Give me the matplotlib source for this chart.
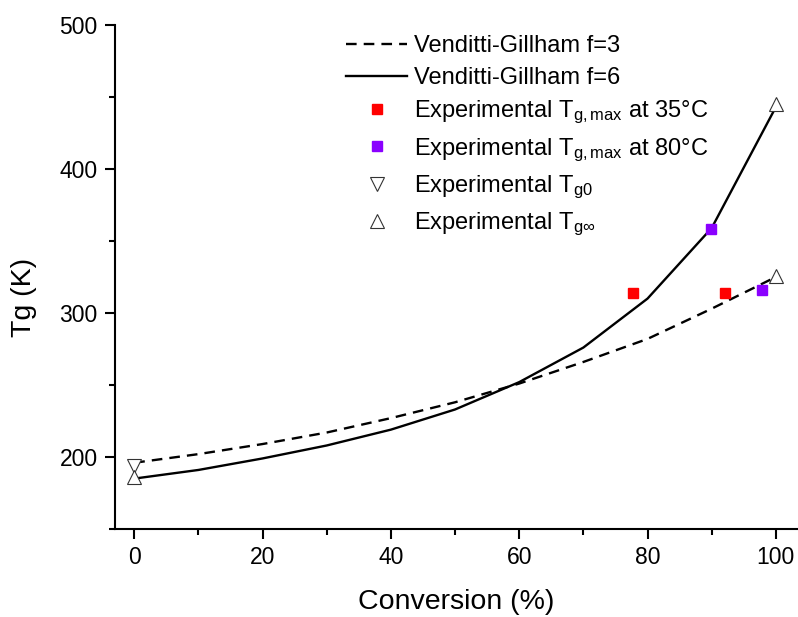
import matplotlib
matplotlib.use("Agg")
import matplotlib.pyplot as plt
from matplotlib.ticker import MultipleLocator

plt.rcParams['font.family'] = ['Liberation Sans', 'DejaVu Sans']
plt.rcParams['mathtext.fontset'] = 'custom'
plt.rcParams['mathtext.rm'] = 'Liberation Sans'
plt.rcParams['mathtext.it'] = 'Liberation Sans'

# Venditti-Gillham model curves
conv = [0, 10, 20, 30, 40, 50, 60, 70, 80, 90, 100]
tg_f3 = [196, 202, 209, 217, 227, 238, 251, 266, 282, 303, 325]
tg_f6 = [185, 191, 199, 208, 219, 233, 252, 276, 310, 359, 443]

# experimental points
x_35 = [77.8, 92.1]
tg_35 = [314, 314]
x_80 = [89.9, 97.9]
tg_80 = [358, 316]
x_g0 = [0]
tg_g0 = [194]
x_ginf = [0, 100, 100]
tg_ginf = [186, 326, 445]

fig = plt.figure(figsize=(7.98, 6.17), dpi=100)
ax = fig.add_axes([115 / 798, 88 / 617, 682 / 798, 504 / 617])

ax.plot(conv, tg_f3, color="black", lw=1.7, ls=(0, (4.5, 3)),
        label="Venditti-Gillham f=3", zorder=2)
ax.plot(conv, tg_f6, color="black", lw=1.7, ls="-",
        label="Venditti-Gillham f=6", zorder=2)
ax.plot(x_35, tg_35, ls="none", marker="s", ms=7.5, color="#ff0000",
        mec="#ff0000", label="Experimental T$_{\\mathregular{g,max}}$ at 35°C", zorder=3)
ax.plot(x_80, tg_80, ls="none", marker="s", ms=7.5, color="#8a00ff",
        mec="#8a00ff", label="Experimental T$_{\\mathregular{g,max}}$ at 80°C", zorder=3)
ax.plot(x_g0, tg_g0, ls="none", marker="v", ms=10, mfc="white", mec="#333333",
        mew=0.8, label="Experimental T$_{\\mathregular{g0}}$", zorder=3)
ax.plot(x_ginf, tg_ginf, ls="none", marker="^", ms=10, mfc="white", mec="#333333",
        mew=0.8, label="Experimental T$_{\\mathregular{g\\infty}}$", zorder=3)

ax.set_xlim(-3, 103.3)
ax.set_ylim(150, 500)
ax.xaxis.set_major_locator(MultipleLocator(20))
ax.xaxis.set_minor_locator(MultipleLocator(10))
ax.yaxis.set_major_locator(MultipleLocator(100))
ax.yaxis.set_minor_locator(MultipleLocator(50))

for side in ["top", "right"]:
    ax.spines[side].set_visible(False)
for side in ["left", "bottom"]:
    ax.spines[side].set_linewidth(1.5)

ax.tick_params(which="major", direction="out", length=7.5, width=1.5,
               labelsize=16.5, pad=5)
ax.tick_params(which="minor", direction="out", length=4, width=1.5)

ax.set_xlabel("Conversion (%)", fontsize=20.5, labelpad=14)
ax.set_ylabel("Tg (K)", fontsize=20.5)
ax.yaxis.set_label_coords(-0.114, 0.46)

leg = ax.legend(loc="upper left", bbox_to_anchor=(346 / 798, 1 - 35 / 617),
                bbox_transform=fig.transFigure, frameon=False, fontsize=17,
                handlelength=2.6, handletextpad=0.3, labelspacing=0.42,
                borderpad=0, borderaxespad=0)

fig.savefig("out.png", dpi=100)
